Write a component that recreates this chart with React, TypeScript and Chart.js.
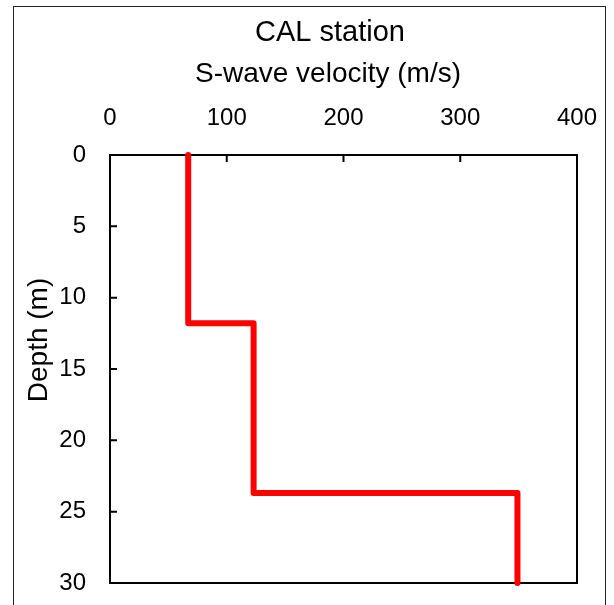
import React, { useEffect, useRef } from "react";
import { Chart, registerables } from "chart.js";

Chart.register(...registerables);

// Layer data
const layerTop = [0, 11.8, 23.7];
const layerBottom = [11.8, 23.7, 30];
const velocity = [67, 123, 349];

const xTicks = [0, 100, 200, 300, 400];
const yTicks = [0, 5, 10, 15, 20, 25, 30];

const chartTitle = "CAL station";
const xTitle = "S-wave velocity (m/s)";
const yTitle = "Depth (m)";

const FONT = '"Liberation Sans", Arial, sans-serif';

export default function App() {
  const ref = useRef<HTMLCanvasElement | null>(null);

  useEffect(() => {
    if (!ref.current) return;
    const pts: { x: number; y: number }[] = [];
    for (let i = 0; i < velocity.length; i++) {
      pts.push({ x: velocity[i], y: layerTop[i] });
      pts.push({ x: velocity[i], y: layerBottom[i] });
    }

    const framePlugin = {
      id: "frame",
      beforeDatasetsDraw(chart: any) {
        const { ctx, chartArea: a, scales } = chart;
        ctx.save();
        ctx.strokeStyle = "#000";
        ctx.lineWidth = 2;
        ctx.strokeRect(a.left, a.top, a.right - a.left, a.bottom - a.top);
        ctx.beginPath();
        for (const v of xTicks) {
          const px = scales.x.getPixelForValue(v);
          ctx.moveTo(px, a.top);
          ctx.lineTo(px, a.top + 7);
        }
        for (const v of yTicks) {
          const py = scales.y.getPixelForValue(v);
          ctx.moveTo(a.left, py);
          ctx.lineTo(a.left + 7, py);
        }
        ctx.stroke();
        ctx.restore();
      },
      afterDraw(chart: any) {
        const { ctx } = chart;
        ctx.save();
        ctx.strokeStyle = "#222";
        ctx.lineWidth = 1;
        ctx.strokeRect(13.5, 6.5, 592, 640);
        ctx.fillStyle = "#000";
        ctx.textAlign = "center";
        ctx.textBaseline = "alphabetic";
        ctx.font = `29px ${FONT}`;
        ctx.fillText(chartTitle, 330, 41);
        ctx.font = `28px ${FONT}`;
        ctx.fillText(xTitle, 328, 82);
        ctx.translate(47, 340);
        ctx.rotate(-Math.PI / 2);
        ctx.fillText(yTitle, 0, 0);
        ctx.restore();
      },
    };

    const chart = new Chart(ref.current, {
      type: "scatter",
      data: {
        datasets: [
          {
            data: pts,
            showLine: true,
            borderColor: "#FF0000",
            borderWidth: 6,
            borderCapStyle: "round",
            borderJoinStyle: "round",
            pointRadius: 0,
            fill: false,
            clip: 6,
          } as any,
        ],
      },
      options: {
        responsive: false,
        animation: false,
        layout: { padding: { left: 0, top: 0, right: 37, bottom: 22 } },
        plugins: {
          legend: { display: false },
          tooltip: { enabled: false },
          title: { display: false },
        },
        scales: {
          x: {
            type: "linear",
            position: "top",
            min: 0,
            max: 400,
            afterBuildTicks: (s: any) => {
              s.ticks = xTicks.map((v) => ({ value: v }));
            },
            afterFit: (s: any) => {
              s.height = 155;
              s.paddingLeft = 0;
              s.paddingRight = 0;
            },
            ticks: {
              color: "#000",
              font: { family: FONT, size: 24 },
              padding: 22,
              maxRotation: 0,
            },
            grid: { display: false, drawTicks: false },
            border: { display: false },
          },
          y: {
            type: "linear",
            position: "left",
            reverse: true,
            min: 0,
            max: 30,
            afterBuildTicks: (s: any) => {
              s.ticks = yTicks.map((v) => ({ value: v }));
            },
            afterFit: (s: any) => {
              s.width = 110;
              s.paddingTop = 0;
              s.paddingBottom = 0;
            },
            ticks: {
              color: "#000",
              font: { family: FONT, size: 24 },
              padding: 24,
            },
            grid: { display: false, drawTicks: false },
            border: { display: false },
          },
        },
      },
      plugins: [framePlugin],
    });
    return () => chart.destroy();
  }, []);

  return (
    <div style={{ position: "absolute", left: 0, top: 0, width: 614, height: 605, background: "#fff" }}>
      <canvas ref={ref} width={614} height={605} style={{ display: "block" }} />
    </div>
  );
}
